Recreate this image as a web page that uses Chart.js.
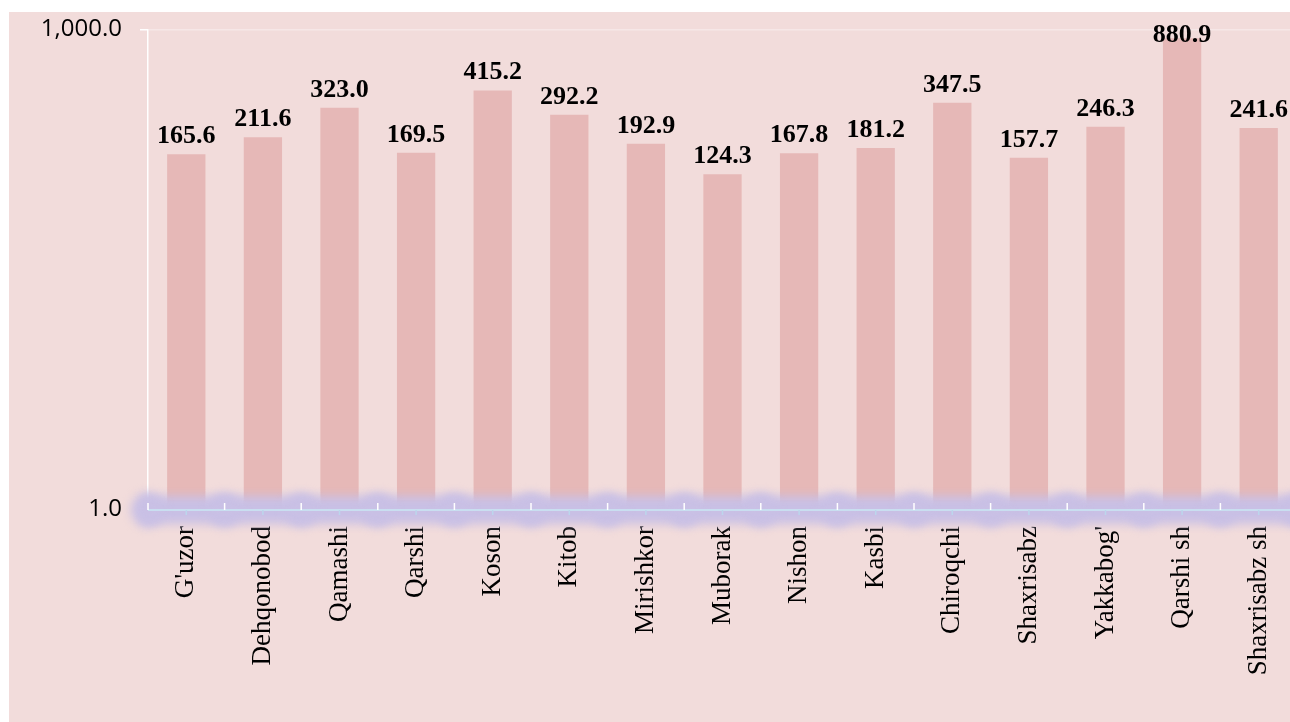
<!DOCTYPE html>
<html>
<head>
<meta charset="utf-8">
<script src="https://cdn.jsdelivr.net/npm/chart.js@4.4.1/dist/chart.umd.min.js"></script>
<style>
  html, body { margin: 0; padding: 0; background: #fff; overflow: hidden; width: 1290px; height: 722px; }
  #wrap { position: absolute; left: 9px; top: 12px; width: 1300px; height: 710px; background: #f2dcdb; overflow: hidden; }
  #chart { position: absolute; left: 0; top: -15px; }
</style>
</head>
<body>
<div id="wrap"><canvas id="chart" width="1300" height="725"></canvas></div>
<script>
// districts and values
const districts = ["G'uzor", "Dehqonobod", "Qamashi", "Qarshi", "Koson", "Kitob", "Mirishkor", "Muborak",
  "Nishon", "Kasbi", "Chiroqchi", "Shaxrisabz", "Yakkabog'", "Qarshi sh", "Shaxrisabz sh"];
const values = [165.6, 211.6, 323.0, 169.5, 415.2, 292.2, 192.9, 124.3, 167.8, 181.2, 347.5, 157.7, 246.3, 880.9, 241.6];
const yTicks = [1, 1000];

const fmt = (v) => v.toLocaleString("en-US", { minimumFractionDigits: 1, maximumFractionDigits: 1 });

// bold value labels above the bars
const valueLabels = {
  id: "valueLabels",
  afterDatasetsDraw(chart) {
    const ctx = chart.ctx;
    const meta = chart.getDatasetMeta(0);
    ctx.save();
    ctx.font = "bold 26px 'Liberation Serif', 'Times New Roman', serif";
    ctx.fillStyle = "#000";
    ctx.textAlign = "center";
    ctx.textBaseline = "alphabetic";
    meta.data.forEach((bar, i) => {
      const y = Math.max(bar.y - 11, chart.chartArea.top + 13);
      ctx.fillText(fmt(values[i]), bar.x, y);
    });
    ctx.restore();
  }
};

// glowing category axis
const axisGlow = {
  id: "axisGlow",
  afterDatasetsDraw(chart) {
    const { ctx, chartArea: a, scales: { x } } = chart;
    const y0 = a.bottom + 1;
    const n = districts.length;
    const step = (x.right - x.left) / n;
    ctx.save();
    ctx.filter = "blur(5px)";
    ctx.strokeStyle = "rgb(201,192,229)";
    ctx.lineWidth = 28;
    ctx.beginPath();
    ctx.moveTo(a.left - 6, y0);
    ctx.lineTo(a.right + 10, y0);
    ctx.stroke();
    ctx.fillStyle = "rgb(201,192,229)";
    for (let i = 0; i <= n; i++) {
      ctx.beginPath();
      ctx.arc(x.left + i * step, y0, 17, 0, Math.PI * 2);
      ctx.fill();
    }
    ctx.restore();

    ctx.save();
    ctx.strokeStyle = "#c9def0";
    ctx.lineWidth = 2;
    ctx.beginPath();
    ctx.moveTo(a.left, y0);
    ctx.lineTo(a.right, y0);
    ctx.stroke();
    // white boundary ticks above
    ctx.strokeStyle = "#ffffff";
    ctx.lineWidth = 1.5;
    for (let i = 0; i <= n; i++) {
      const px = x.left + i * step;
      ctx.beginPath();
      ctx.moveTo(px, y0 - 7);
      ctx.lineTo(px, y0);
      ctx.stroke();
    }
    // bluish centre ticks below
    ctx.strokeStyle = "#bcd6ec";
    for (let i = 0; i < n; i++) {
      const px = x.getPixelForValue(i);
      ctx.beginPath();
      ctx.moveTo(px, y0);
      ctx.lineTo(px, y0 + 5);
      ctx.stroke();
    }
    ctx.restore();
  }
};

new Chart(document.getElementById("chart"), {
  type: "bar",
  data: {
    labels: districts,
    datasets: [{
      data: values,
      backgroundColor: "#e6b8b7",
      borderWidth: 0,
      barPercentage: 0.5,
      categoryPercentage: 1.0
    }]
  },
  options: {
    responsive: false,
    animation: false,
    layout: { padding: { top: 3, right: 12, left: 0, bottom: 0 } },
    plugins: { legend: { display: false }, tooltip: { enabled: false } },
    scales: {
      x: {
        offset: true,
        grid: { display: false },
        border: { display: false },
        ticks: {
          minRotation: 90, maxRotation: 90, autoSkip: false, padding: 9,
          color: "#000",
          font: { family: "'Liberation Serif', 'Times New Roman', serif", size: 27 }
        },
        afterFit(scale) { scale.height = 213; }
      },
      y: {
        type: "logarithmic",
        min: 1, max: 1000,
        afterBuildTicks(scale) { scale.ticks = yTicks.map(v => ({ value: v })); },
        grid: {
          color: (c) => c.tick && c.tick.value === 1000 ? "#f6e7e7" : "rgba(0,0,0,0)",
          tickColor: "#ffffff",
          tickLength: 8,
          lineWidth: 1.5
        },
        border: { color: "#ffffff", width: 1.5 },
        ticks: {
          padding: 18,
          color: "#000",
          font: { family: "'Open Sans', sans-serif", size: 24 },
          callback: (v) => fmt(v)
        },
        afterFit(scale) { scale.width = 139; }
      }
    }
  },
  plugins: [valueLabels, axisGlow]
});
</script>
</body>
</html>
